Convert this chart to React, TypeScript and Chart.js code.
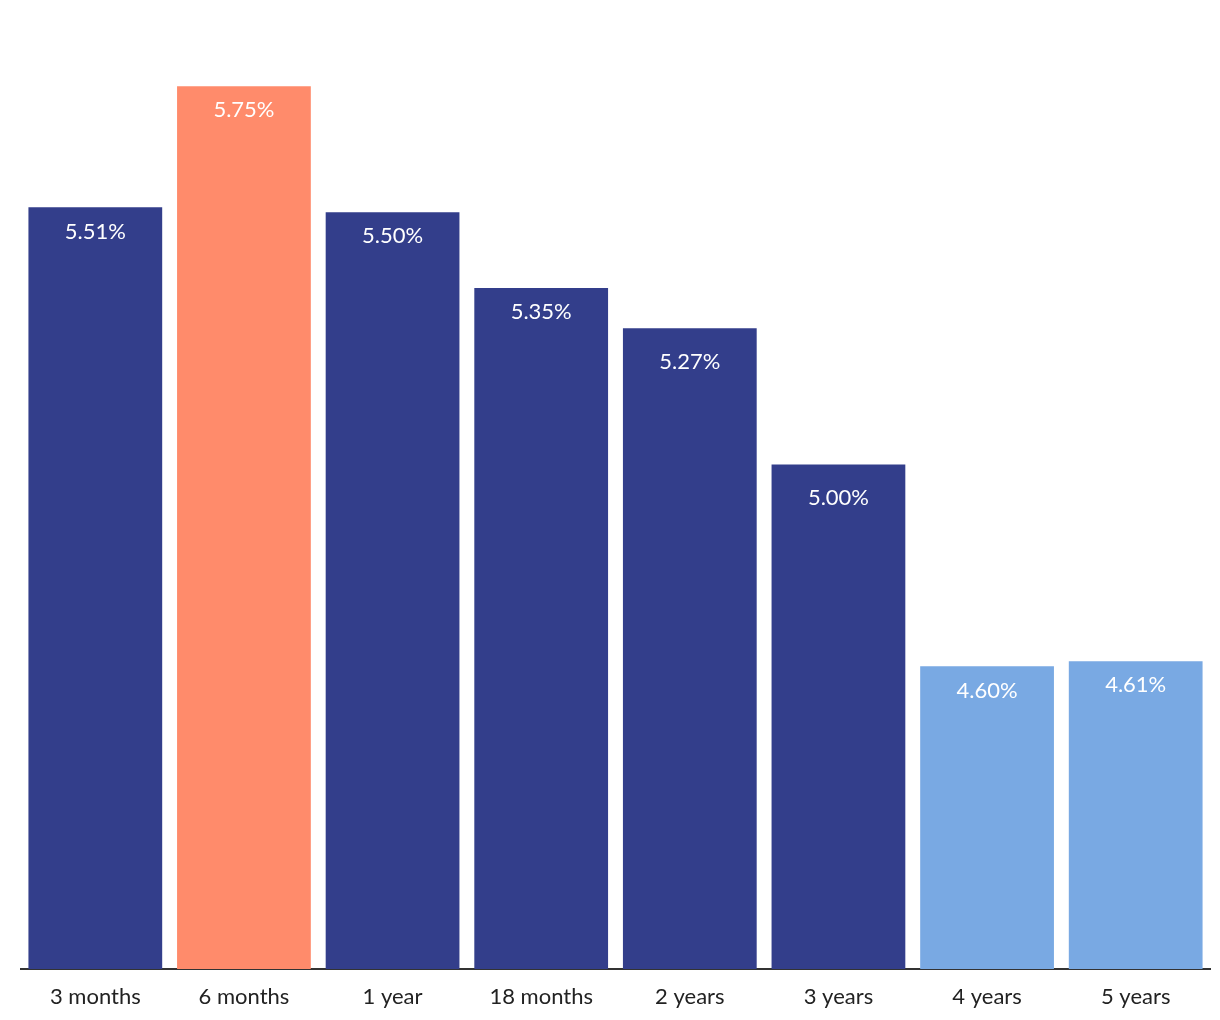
import React, { useEffect, useRef } from "react";
import { Chart, registerables } from "chart.js";

Chart.register(...registerables);

const categories = ["3 months", "6 months", "1 year", "18 months", "2 years", "3 years", "4 years", "5 years"];
const rates = [5.51, 5.75, 5.5, 5.35, 5.27, 5.0, 4.6, 4.61];
const barColors = ["#333E8B", "#FF8B6B", "#333E8B", "#333E8B", "#333E8B", "#333E8B", "#79A9E3", "#79A9E3"];
const yMin = 4;
const yMax = 5.8;

const FONT = "Lato, 'Open Sans', sans-serif";

// style: distance of each value label's centre below its bar top
const LABEL_GAP = [25, 24, 24, 24, 34, 33, 25, 24];

const valueLabels = {
  id: "valueLabels",
  afterDatasetsDraw(chart: any) {
    const ctx = chart.ctx;
    const meta = chart.getDatasetMeta(0);
    ctx.save();
    ctx.fillStyle = "#ffffff";
    ctx.font = `22px ${FONT}`;
    ctx.textAlign = "center";
    ctx.textBaseline = "middle";
    meta.data.forEach((bar: any, i: number) => {
      ctx.fillText(rates[i].toFixed(2) + "%", bar.x, bar.y + LABEL_GAP[i]);
    });
    ctx.restore();
  },
};

export default function App() {
  const ref = useRef<HTMLCanvasElement>(null);
  useEffect(() => {
    document.body.style.margin = "0";
    const chart = new Chart(ref.current!, {
      type: "bar",
      data: {
        labels: categories,
        datasets: [
          {
            data: rates,
            backgroundColor: barColors,
            categoryPercentage: 1,
            barPercentage: 0.9,
          },
        ],
      },
      options: {
        animation: false,
        responsive: false,
        layout: { padding: { top: 61, left: 21, right: 10, bottom: 0 } },
        plugins: { legend: { display: false }, tooltip: { enabled: false } },
        scales: {
          y: { display: false, min: yMin, max: yMax },
          x: {
            grid: { display: false },
            border: { display: true, color: "#333333", width: 2 },
            ticks: { color: "#222222", font: { family: FONT, size: 22 }, padding: 7 },
            afterFit: (s: any) => {
              s.height = 51;
            },
          },
        },
      },
      plugins: [valueLabels],
    });
    return () => chart.destroy();
  }, []);
  return (
    <div style={{ position: "absolute", left: 0, top: 0, width: 1220, height: 1020 }}>
      <canvas ref={ref} width={1220} height={1020} />
    </div>
  );
}
